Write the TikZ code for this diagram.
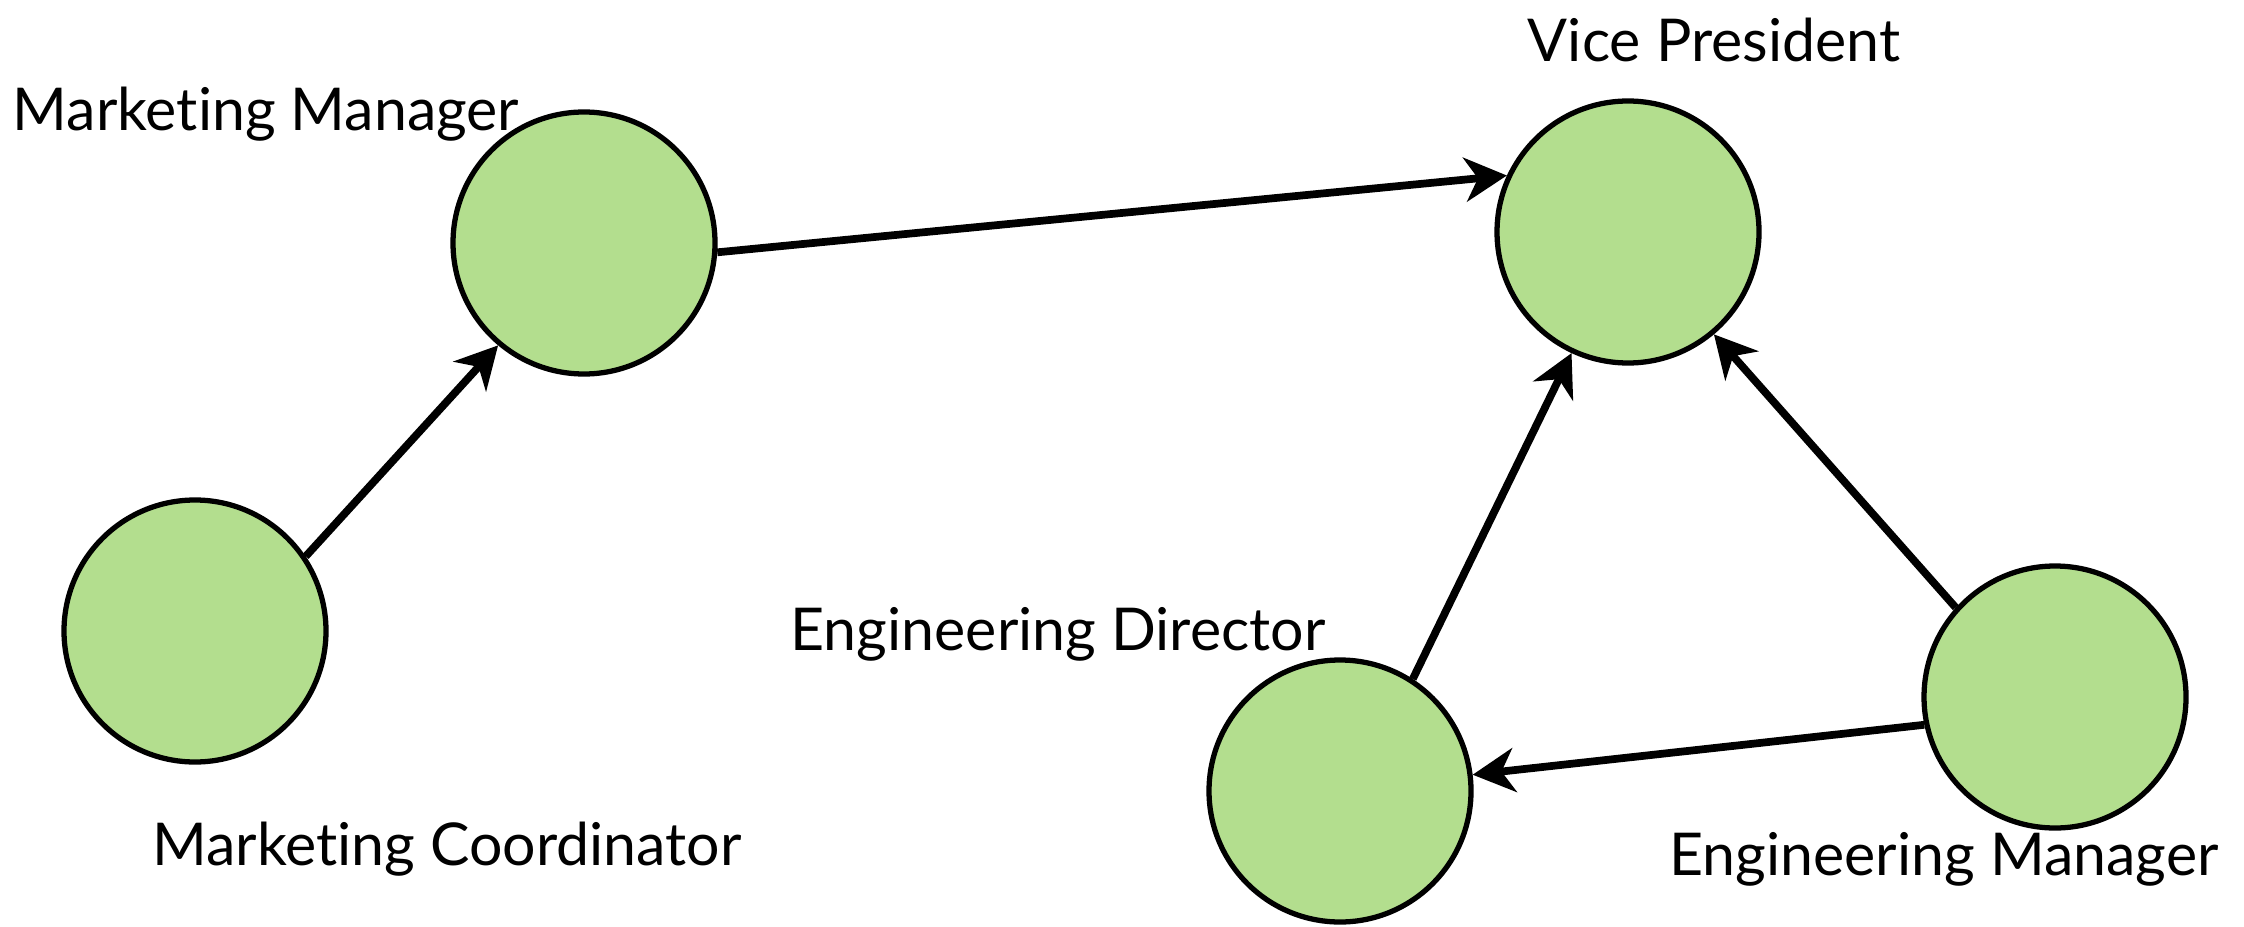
\documentclass[tikz,border=0pt]{standalone}
\usepackage{fontspec}
\setmainfont{Lato}[Ligatures=NoCommon]
\usepackage{xcolor}
\usepackage{tikz}
\usetikzlibrary{arrows.meta,positioning}
\definecolor{leaf}{RGB}{179,222,142}

\begin{document}
\begin{tikzpicture}[
    person/.style={circle, draw, line width=1.5pt, fill=leaf, minimum size=2.62cm},
    role/.style={inner sep=0pt, font=\fontsize{16.8}{20}\selectfont},
    link/.style={-{Stealth[length=4.2mm, width=4.4mm, inset=1.3mm]}, line width=2.2pt}]
    \useasboundingbox (0,0) rectangle (22.44,9.26);
    \node[person] (mm) at (5.84,6.83) {};
    \node[person] (mc) at (1.95,2.95) {};
    \node[person] (vp) at (16.28,6.94) {};
    \node[person] (ed) at (13.40,1.35) {};
    \node[person] (em) at (20.55,2.29) {};
    \node[role] (mmlabel) at (2.66,8.12) {Marketing Manager};
    \node[role] (mclabel) at (4.47,0.77) {Marketing Coordinator};
    \node[role] (vplabel) at (17.14,8.86) {Vice President};
    \node[role] (edlabel) at (10.58,2.92) {Engineering Director};
    \node[role] (emlabel) at (19.44,0.67) {Engineering Manager};
    \draw[link] (mc.34) -- (mm.230);
    \draw[link] (mm.-4) -- (vp.155);
    \draw[link] (ed.57) -- (vp.245);
    \draw[link] (em.138) -- (vp.310);
    \draw[link] (em.192) -- (ed.7);
\end{tikzpicture}
\end{document}
